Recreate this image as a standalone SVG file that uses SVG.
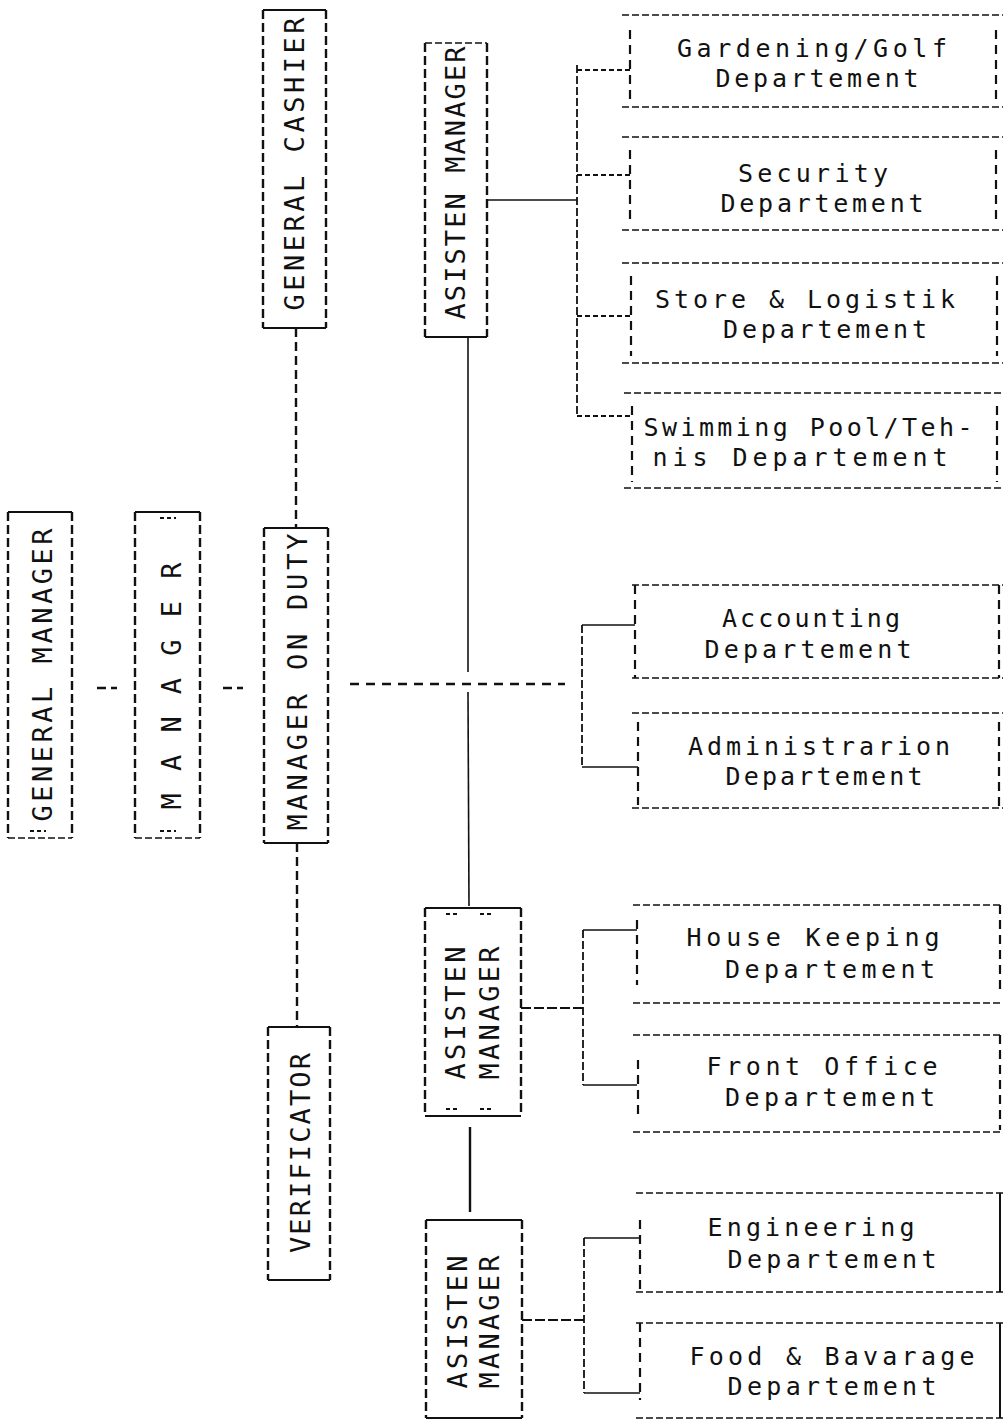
<svg xmlns="http://www.w3.org/2000/svg" width="1005" height="1422" viewBox="0 0 1005 1422">
<style>
  .bg { fill: #ffffff; }
  .solid { stroke: #111; stroke-width: 2; fill: none; }
  .side { stroke: #111; stroke-width: 2.4; fill: none; stroke-dasharray: 9 4; }
  .hdash { stroke: #111; stroke-width: 1.6; fill: none; stroke-dasharray: 7 3; }
  .dside { stroke: #111; stroke-width: 2.2; fill: none; stroke-dasharray: 9 6; }
  .conn { stroke: #111; stroke-width: 1.6; fill: none; }
  .connd { stroke: #111; stroke-width: 1.8; fill: none; stroke-dasharray: 8 3; }
  .connthick { stroke: #111; stroke-width: 2.4; fill: none; stroke-dasharray: 9 5; }
  .vt { font-family: "DejaVu Sans Mono", "Liberation Mono", monospace; font-size: 27px; fill: #111; text-anchor: middle; }
  .dt { font-family: "DejaVu Sans Mono", "Liberation Mono", monospace; font-size: 25px; fill: #111; text-anchor: middle; }
  .tick { stroke: #111; stroke-width: 2; fill: none; stroke-dasharray: 4 3; }
</style>
<rect class="bg" x="0" y="0" width="1005" height="1422"/>

<g id="connectors">
  <line class="connthick" x1="97" y1="688" x2="117" y2="688"/>
  <line class="connthick" x1="223" y1="688" x2="243" y2="688"/>
  <line class="connthick" x1="296" y1="328" x2="296" y2="528"/>
  <line class="connthick" x1="297" y1="843" x2="297" y2="1027"/>
  <line class="connthick" x1="350" y1="684" x2="565" y2="684" style="stroke-dasharray: 9 7"/>
  <line class="conn" x1="468" y1="337" x2="468" y2="672"/>
  <line class="conn" x1="468" y1="692" x2="469" y2="906"/>
  <line class="conn" x1="487" y1="200" x2="577" y2="200"/>
  <line class="connd" x1="577" y1="65" x2="577" y2="416"/>
  <line class="connd" x1="577" y1="70" x2="630" y2="70" style="stroke-dasharray: 5 3"/>
  <line class="connd" x1="577" y1="175" x2="630" y2="175" style="stroke-dasharray: 5 3"/>
  <line class="connd" x1="577" y1="316" x2="630" y2="316" style="stroke-dasharray: 5 3"/>
  <line class="connd" x1="577" y1="416" x2="632" y2="416" style="stroke-dasharray: 5 3"/>
  <line class="connd" x1="582" y1="625" x2="582" y2="767"/>
  <line class="conn" x1="582" y1="625" x2="635" y2="625"/>
  <line class="conn" x1="582" y1="767" x2="638" y2="767"/>
  <line class="connd" x1="521" y1="1008" x2="583" y2="1008" style="stroke-dasharray: 10 3"/>
  <line class="connd" x1="583" y1="930" x2="583" y2="1085"/>
  <line class="conn" x1="583" y1="930" x2="637" y2="930"/>
  <line class="conn" x1="583" y1="1085" x2="637" y2="1085"/>
  <line class="solid" x1="470" y1="1127" x2="470" y2="1212" style="stroke-width:2.4"/>
  <line class="connd" x1="522" y1="1320" x2="584" y2="1320" style="stroke-dasharray: 10 3"/>
  <line class="connd" x1="584" y1="1238" x2="584" y2="1393"/>
  <line class="conn" x1="584" y1="1238" x2="640" y2="1238"/>
  <line class="conn" x1="584" y1="1393" x2="640" y2="1393"/>
</g>

<g id="general-manager">
  <line class="solid" x1="8" y1="512" x2="72" y2="512"/>
  <line class="side" x1="8" y1="512" x2="8" y2="838"/>
  <line class="side" x1="72" y1="512" x2="72" y2="838"/>
  <line class="hdash" x1="8" y1="838" x2="72" y2="838"/>
  <line class="tick" x1="30" y1="831" x2="46" y2="831"/>
  <text class="vt" x="42" y="685" transform="rotate(-90 42 675)" textLength="293" lengthAdjust="spacing">GENERAL MANAGER</text>
</g>

<g id="manager">
  <line class="solid" x1="135" y1="512" x2="200" y2="512"/>
  <line class="side" x1="135" y1="512" x2="135" y2="838"/>
  <line class="side" x1="200" y1="512" x2="200" y2="838"/>
  <line class="hdash" x1="135" y1="838" x2="200" y2="838"/>
  <line class="tick" x1="160" y1="831" x2="176" y2="831"/>
  <line class="tick" x1="160" y1="518" x2="176" y2="518"/>
  <text class="vt" x="171" y="696" transform="rotate(-90 171 686)" textLength="247" lengthAdjust="spacing">M A N A G E R</text>
</g>

<g id="manager-on-duty">
  <line class="solid" x1="264" y1="528" x2="328" y2="528"/>
  <line class="side" x1="264" y1="528" x2="264" y2="843"/>
  <line class="side" x1="328" y1="528" x2="328" y2="843"/>
  <line class="solid" x1="264" y1="843" x2="328" y2="843"/>
  <text class="vt" x="297" y="692" transform="rotate(-90 297 682)" textLength="297" lengthAdjust="spacing">MANAGER ON DUTY</text>
</g>

<g id="general-cashier">
  <line class="solid" x1="263" y1="10" x2="326" y2="10"/>
  <line class="side" x1="263" y1="10" x2="263" y2="328"/>
  <line class="side" x1="326" y1="10" x2="326" y2="328"/>
  <line class="solid" x1="263" y1="328" x2="326" y2="328"/>
  <text class="vt" x="294" y="174" transform="rotate(-90 294 164)" textLength="293" lengthAdjust="spacing">GENERAL CASHIER</text>
</g>

<g id="asisten-manager-1">
  <line class="hdash" x1="425" y1="43" x2="487" y2="43"/>
  <line class="side" x1="425" y1="43" x2="425" y2="337"/>
  <line class="side" x1="487" y1="43" x2="487" y2="337"/>
  <line class="solid" x1="425" y1="337" x2="487" y2="337"/>
  <text class="vt" x="455" y="193" transform="rotate(-90 455 183)" textLength="273" lengthAdjust="spacing">ASISTEN MANAGER</text>
</g>

<g id="verificator">
  <line class="solid" x1="268" y1="1027" x2="330" y2="1027"/>
  <line class="side" x1="268" y1="1027" x2="268" y2="1280"/>
  <line class="side" x1="330" y1="1027" x2="330" y2="1280"/>
  <line class="solid" x1="268" y1="1280" x2="330" y2="1280"/>
  <text class="vt" x="300" y="1163" transform="rotate(-90 300 1153)" textLength="200" lengthAdjust="spacing">VERIFICATOR</text>
</g>

<g id="asisten-manager-2">
  <line class="solid" x1="425" y1="908" x2="521" y2="908"/>
  <line class="side" x1="425" y1="908" x2="425" y2="1116"/>
  <line class="side" x1="521" y1="908" x2="521" y2="1116"/>
  <line class="solid" x1="425" y1="1116" x2="521" y2="1116"/>
  <line class="tick" x1="446" y1="914" x2="460" y2="914"/>
  <line class="tick" x1="480" y1="914" x2="494" y2="914"/>
  <line class="tick" x1="446" y1="1109" x2="460" y2="1109"/>
  <line class="tick" x1="480" y1="1109" x2="494" y2="1109"/>
  <text class="vt" x="455" y="1023" transform="rotate(-90 455 1013)" textLength="133" lengthAdjust="spacing">ASISTEN</text>
  <text class="vt" x="489" y="1023" transform="rotate(-90 489 1013)" textLength="133" lengthAdjust="spacing">MANAGER</text>
</g>

<g id="asisten-manager-3">
  <line class="solid" x1="426" y1="1220" x2="522" y2="1220"/>
  <line class="side" x1="426" y1="1220" x2="426" y2="1418"/>
  <line class="side" x1="522" y1="1220" x2="522" y2="1418"/>
  <line class="solid" x1="426" y1="1418" x2="522" y2="1418"/>
  <text class="vt" x="457" y="1332" transform="rotate(-90 457 1322)" textLength="133" lengthAdjust="spacing">ASISTEN</text>
  <text class="vt" x="489" y="1332" transform="rotate(-90 489 1322)" textLength="133" lengthAdjust="spacing">MANAGER</text>
</g>

<g id="dept-gardening">
  <line class="hdash" x1="622" y1="15" x2="1003" y2="15"/>
  <line class="hdash" x1="622" y1="107" x2="1003" y2="107"/>
  <line class="dside" x1="630" y1="30" x2="630" y2="100"/>
  <line class="dside" x1="996" y1="30" x2="996" y2="100"/>
  <text class="dt" x="812" y="57" textLength="270" lengthAdjust="spacing">Gardening/Golf</text>
  <text class="dt" x="817" y="87" textLength="203" lengthAdjust="spacing">Departement</text>
</g>

<g id="dept-security">
  <line class="hdash" x1="622" y1="137" x2="1003" y2="137"/>
  <line class="hdash" x1="622" y1="230" x2="1003" y2="230"/>
  <line class="dside" x1="630" y1="150" x2="630" y2="224"/>
  <line class="dside" x1="996" y1="150" x2="996" y2="224"/>
  <text class="dt" x="813" y="182" textLength="150" lengthAdjust="spacing">Security</text>
  <text class="dt" x="822" y="212" textLength="203" lengthAdjust="spacing">Departement</text>
</g>

<g id="dept-store">
  <line class="hdash" x1="622" y1="263" x2="1003" y2="263"/>
  <line class="hdash" x1="622" y1="363" x2="1003" y2="363"/>
  <line class="dside" x1="631" y1="276" x2="631" y2="356"/>
  <line class="dside" x1="997" y1="276" x2="997" y2="356"/>
  <text class="dt" x="805" y="308" textLength="300" lengthAdjust="spacing">Store &amp; Logistik</text>
  <text class="dt" x="825" y="338" textLength="204" lengthAdjust="spacing">Departement</text>
</g>

<g id="dept-swimming">
  <line class="hdash" x1="624" y1="393" x2="1003" y2="393"/>
  <line class="hdash" x1="624" y1="488" x2="1003" y2="488"/>
  <line class="dside" x1="632" y1="406" x2="632" y2="482"/>
  <line class="dside" x1="997" y1="406" x2="997" y2="482"/>
  <text class="dt" x="808" y="436" textLength="329" lengthAdjust="spacing">Swimming Pool/Teh-</text>
  <text class="dt" x="800" y="466" textLength="295" lengthAdjust="spacing">nis Departement</text>
</g>

<g id="dept-accounting">
  <line class="hdash" x1="632" y1="585" x2="1003" y2="585"/>
  <line class="hdash" x1="632" y1="678" x2="1003" y2="678"/>
  <line class="dside" x1="635" y1="585" x2="635" y2="678"/>
  <line class="dside" x1="999" y1="585" x2="999" y2="678"/>
  <text class="dt" x="811" y="627" textLength="178" lengthAdjust="spacing">Accounting</text>
  <text class="dt" x="808" y="658" textLength="207" lengthAdjust="spacing">Departement</text>
</g>

<g id="dept-administration">
  <line class="hdash" x1="632" y1="713" x2="1003" y2="713"/>
  <line class="hdash" x1="632" y1="808" x2="1003" y2="808"/>
  <line class="dside" x1="638" y1="722" x2="638" y2="805"/>
  <line class="dside" x1="999" y1="722" x2="999" y2="808"/>
  <text class="dt" x="819" y="755" textLength="262" lengthAdjust="spacing">Administrarion</text>
  <text class="dt" x="824" y="785" textLength="197" lengthAdjust="spacing">Departement</text>
</g>

<g id="dept-housekeeping">
  <line class="hdash" x1="633" y1="905" x2="1003" y2="905"/>
  <line class="hdash" x1="633" y1="1003" x2="1003" y2="1003"/>
  <line class="dside" x1="637" y1="920" x2="637" y2="985"/>
  <line class="dside" x1="1000" y1="905" x2="1000" y2="995"/>
  <text class="dt" x="813" y="946" textLength="253" lengthAdjust="spacing">House Keeping</text>
  <text class="dt" x="830" y="978" textLength="210" lengthAdjust="spacing">Departement</text>
</g>

<g id="dept-frontoffice">
  <line class="hdash" x1="633" y1="1035" x2="1003" y2="1035"/>
  <line class="hdash" x1="633" y1="1132" x2="1003" y2="1132"/>
  <line class="dside" x1="638" y1="1060" x2="638" y2="1115"/>
  <line class="dside" x1="1000" y1="1035" x2="1000" y2="1130"/>
  <text class="dt" x="822" y="1075" textLength="231" lengthAdjust="spacing">Front Office</text>
  <text class="dt" x="830" y="1106" textLength="210" lengthAdjust="spacing">Departement</text>
</g>

<g id="dept-engineering">
  <line class="hdash" x1="636" y1="1193" x2="1003" y2="1193"/>
  <line class="hdash" x1="636" y1="1292" x2="1003" y2="1292"/>
  <line class="dside" x1="640" y1="1220" x2="640" y2="1292"/>
  <line class="solid" x1="1000" y1="1193" x2="1000" y2="1292"/>
  <text class="dt" x="811" y="1236" textLength="207" lengthAdjust="spacing">Engineering</text>
  <text class="dt" x="832" y="1268" textLength="209" lengthAdjust="spacing">Departement</text>
</g>

<g id="dept-foodbeverage">
  <line class="hdash" x1="636" y1="1323" x2="1003" y2="1323"/>
  <line class="hdash" x1="636" y1="1418" x2="1003" y2="1418"/>
  <line class="dside" x1="640" y1="1323" x2="640" y2="1400"/>
  <line class="solid" x1="1000" y1="1323" x2="1000" y2="1418"/>
  <text class="dt" x="832" y="1365" textLength="285" lengthAdjust="spacing">Food &amp; Bavarage</text>
  <text class="dt" x="832" y="1395" textLength="209" lengthAdjust="spacing">Departement</text>
</g>
</svg>
